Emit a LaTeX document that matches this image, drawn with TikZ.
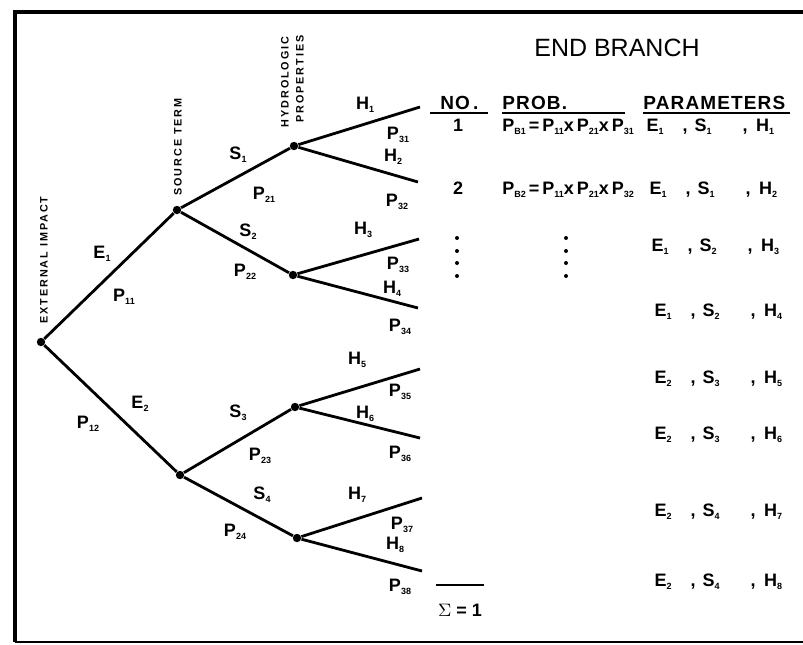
\documentclass[tikz,border=0pt]{standalone}
\usepackage{fontspec}
\setmainfont{Liberation Sans}
\newfontfamily\spacedfont[LetterSpace=18]{Liberation Sans}
\newfontfamily\headfont[LetterSpace=6]{Liberation Sans}
\usepackage{tikz}

\newcommand{\lbl}[2]{#1\raisebox{-0.35ex}{\fontsize{4.5}{5}\selectfont\bfseries #2}}

\begin{document}
\begin{tikzpicture}[x=0.5pt,y=-0.5pt,
  dot/.style={circle,fill,inner sep=0pt,minimum size=4.2pt},
  tinydot/.style={circle,fill,inner sep=0pt,minimum size=2pt},
  branch/.style={line width=1.4pt},
  lab/.style={font=\fontsize{9}{10}\selectfont\bfseries,inner sep=0pt,text height=6.6pt,text depth=0.6pt},
  head/.style={font=\fontsize{9.5}{10}\selectfont\headfont\bfseries,inner sep=0pt,text height=6.8pt,text depth=0pt},
  tag/.style={font=\fontsize{5.4}{6}\selectfont\spacedfont\bfseries,rotate=90,inner sep=0pt}]
\useasboundingbox (0,0) rectangle (803,644);
\draw[line width=2pt] (803,12) -- (15,12) -- (15,642);
\draw[line width=1pt] (15,642) -- (803,642);

\node[dot] (root) at (41,342) {};
\node[dot] (s1) at (177,210) {};
\node[dot] (s2) at (180,475) {};
\node[dot] (h1) at (294,146) {};
\node[dot] (h2) at (293,275) {};
\node[dot] (h3) at (295,407) {};
\node[dot] (h4) at (297,538) {};
\coordinate (e1) at (420,107);
\coordinate (e2) at (418,182);
\coordinate (e3) at (419,239);
\coordinate (e4) at (418,308);
\coordinate (e5) at (420,369);
\coordinate (e6) at (420,438);
\coordinate (e7) at (422,498);
\coordinate (e8) at (422,571);

\draw[branch] (root) -- (s1) (root) -- (s2);
\draw[branch] (s1) -- (h1) (s1) -- (h2) (s2) -- (h3) (s2) -- (h4);
\foreach \h/\a/\b in {h1/e1/e2,h2/e3/e4,h3/e5/e6,h4/e7/e8}
  \draw[branch] (\h) -- (\a) (\h) -- (\b);

\node[tag] (ext) at (44,260) {EXTERNAL IMPACT};
\node[tag] (src) at (178,147) {SOURCE TERM};
\node[tag] (hyd) at (285,82) {HYDROLOGIC};
\node[tag] (prop) at (300,79) {PROPERTIES};

\foreach \n/\x/\y/\t in {
  E1/102/252/{\lbl{E}{1}}, P11/124/295/{\lbl{P}{11}},
  E2/140/402/{\lbl{E}{2}}, P12/88/422/{\lbl{P}{12}},
  S1/238/153/{\lbl{S}{1}}, P21/264/193/{\lbl{P}{21}},
  S2/248/230/{\lbl{S}{2}}, P22/245/270/{\lbl{P}{22}},
  S3/238/411/{\lbl{S}{3}}, P23/260/454/{\lbl{P}{23}},
  S4/262/493/{\lbl{S}{4}}, P24/235/530/{\lbl{P}{24}},
  H1/365/103/{\lbl{H}{1}}, P31/398/133/{\lbl{P}{31}},
  H2/393/155/{\lbl{H}{2}}, P32/397/200/{\lbl{P}{32}},
  H3/363/228/{\lbl{H}{3}}, P33/398/263/{\lbl{P}{33}},
  H4/392/287/{\lbl{H}{4}}, P34/400/325/{\lbl{P}{34}},
  H5/357/358/{\lbl{H}{5}}, P35/400/390/{\lbl{P}{35}},
  H6/365/412/{\lbl{H}{6}}, P36/400/452/{\lbl{P}{36}},
  H7/357/493/{\lbl{H}{7}}, P37/402/523/{\lbl{P}{37}},
  H8/395/543/{\lbl{H}{8}}, P38/400/585/{\lbl{P}{38}}}
  \node[lab] (\n) at (\x,\y) {\t};

\node[inner sep=0pt,font=\fontsize{12.5}{14}\selectfont] (title) at (617,48) {END BRANCH};
\node[head,anchor=west] (no) at (440,103) {NO\hspace{1.5pt}.};
\node[head,anchor=west] (prob) at (502,103) {PROB.};
\node[head,anchor=west] (param) at (643,103) {PARAMETERS};
\draw[line width=0.8pt] (430,113) -- (488,113) (502,113) -- (625,113) (643,113) -- (790,113);

\node[lab] (n1) at (458,125) {1};
\node[lab] (n2) at (458,188) {2};
\node[lab,anchor=west] (pb1) at (502,125) {\lbl{P}{B1}\hspace{1.5pt}=\hspace{1.5pt}\lbl{P}{11}x\hspace{1.5pt}\lbl{P}{21}x\hspace{1.5pt}\lbl{P}{31}};
\node[lab,anchor=west] (pb2) at (502,188) {\lbl{P}{B2}\hspace{1.5pt}=\hspace{1.5pt}\lbl{P}{11}x\hspace{1.5pt}\lbl{P}{21}x\hspace{1.5pt}\lbl{P}{32}};

\foreach \i/\y/\dx/\e/\s/\h in {1/125/0/1/1/1, 2/188/3/1/1/2, 3/245/5/1/2/3, 4/310/8/1/2/4,
  5/377/8/2/3/5, 6/433/8/2/3/6, 7/510/8/2/4/7, 8/580/8/2/4/8} {
  \node[lab] (pe\i) at (655+\dx,\y) {\lbl{E}{\e}};
  \node[lab] (ca\i) at (685+\dx,\y) {,};
  \node[lab] (ps\i) at (703+\dx,\y) {\lbl{S}{\s}};
  \node[lab] (cb\i) at (745+\dx,\y) {,};
  \node[lab] (ph\i) at (765+\dx,\y) {\lbl{H}{\h}};
}

\foreach \y in {238,251,263,276} {
  \node[tinydot] (dl\y) at (457,\y) {};
  \node[tinydot] (dr\y) at (566,\y) {};
}

\coordinate (sa) at (436,585);
\coordinate (sb) at (484,585);
\draw[line width=0.8pt] (sa) -- (sb);
\node[lab] (sum) at (460,610) {$\Sigma$ = 1};
\end{tikzpicture}
\end{document}
